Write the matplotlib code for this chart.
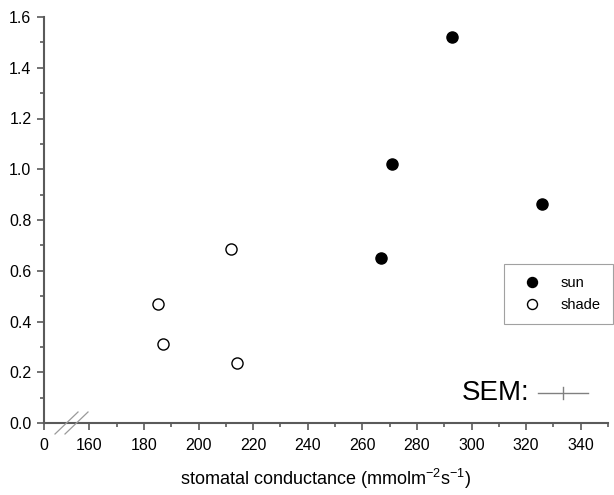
"""Sun vs shade leaves: rate against stomatal conductance, broken x axis."""

import matplotlib.pyplot as plt
import numpy as np
from matplotlib.lines import Line2D

plt.rcParams["font.family"] = ["Liberation Sans", "DejaVu Sans"]

# values
SUN_G = [293, 271, 326, 267]
SUN_Y = [1.52, 1.02, 0.865, 0.65]
SHADE_G = [212, 185, 187, 214]
SHADE_Y = [0.685, 0.47, 0.31, 0.235]

X_TICKS = [0, 160, 180, 200, 220, 240, 260, 280, 300, 320, 340]
X_MINOR = [170, 190, 210, 230, 250, 270, 290, 310, 330, 350]
Y_TICKS = [0.0, 0.2, 0.4, 0.6, 0.8, 1.0, 1.2, 1.4, 1.6]

BREAK_AT = 160
BREAK_START = 143.4  # where 0 sits on the compressed stretch
SQUEEZE = (BREAK_AT - BREAK_START) / BREAK_AT
AXIS_GREY = "#5a5a5a"
W, H = 614, 495


def fwd(x):
    x = np.asarray(x, dtype=float)
    return np.where(x >= BREAK_AT, x, BREAK_START + x * SQUEEZE)


def inv(u):
    u = np.asarray(u, dtype=float)
    return np.where(u >= BREAK_AT, u, (u - BREAK_START) / SQUEEZE)


def px(x, y):
    """pixel position (from top-left) -> figure fraction"""
    return x / W, 1 - y / H


fig = plt.figure(figsize=(W / 100, H / 100), dpi=100)
ax = fig.add_axes([44 / W, 72 / H, 564 / W, 406 / H])
ax.set_xscale("function", functions=(fwd, inv))

ax.plot(SUN_G, SUN_Y, "o", ms=8, mfc="black", mec="black", label="sun")
ax.plot(SHADE_G, SHADE_Y, "o", ms=8, mfc="white", mec="black", mew=1.0,
        label="shade")

ax.set_xlim(0, 350)
ax.set_ylim(0, 1.6)
ax.set_xticks(X_TICKS)
ax.set_xticklabels([str(t) for t in X_TICKS])
ax.set_xticks(X_MINOR, minor=True)
ax.set_yticks(Y_TICKS)
ax.set_yticklabels([f"{t:.1f}" for t in Y_TICKS])
ax.set_yticks(np.arange(0.1, 1.6, 0.2), minor=True)

for side in ("top", "right"):
    ax.spines[side].set_visible(False)
for side in ("left", "bottom"):
    ax.spines[side].set_color(AXIS_GREY)
    ax.spines[side].set_linewidth(1.5)
ax.tick_params(which="both", direction="out", color=AXIS_GREY, width=1.2,
               labelsize=11.5, labelcolor="black", pad=4)
ax.tick_params(axis="x", which="major", pad=6)
ax.tick_params(which="major", length=5)
ax.tick_params(which="minor", length=3)

ax.set_xlabel(r"stomatal conductance (mmolm$^{\mathregular{-2}}$s$^{\mathregular{-1}}$)",
              fontsize=13, labelpad=10)

# axis break marks
for dx in (0, 10):
    fig.add_artist(Line2D([px(55 + dx, 0)[0], px(78 + dx, 0)[0]],
                          [px(0, 434)[1], px(0, 412)[1]],
                          color="#9a9a9a", lw=0.9))

leg = ax.legend(loc="upper left", bbox_to_anchor=px(504, 264),
                bbox_transform=fig.transFigure, frameon=True, fancybox=False,
                fontsize=10.5, markerscale=0.9, handlelength=2.2,
                handletextpad=0.9, borderpad=0.8, labelspacing=0.6,
                borderaxespad=0)
leg.get_frame().set_edgecolor("#8a8a8a")
leg.get_frame().set_linewidth(0.8)

# SEM scale marker
fig.text(*px(462, 393), "SEM:", fontsize=20, ha="left", va="center")
fig.add_artist(Line2D([px(538, 0)[0], px(588, 0)[0]], [px(0, 393)[1]] * 2,
                      color="#808080", lw=1.0))
fig.add_artist(Line2D([px(563, 0)[0]] * 2, [px(0, 387)[1], px(0, 399)[1]],
                      color="#808080", lw=1.0))

fig.savefig("out.png", dpi=100)
